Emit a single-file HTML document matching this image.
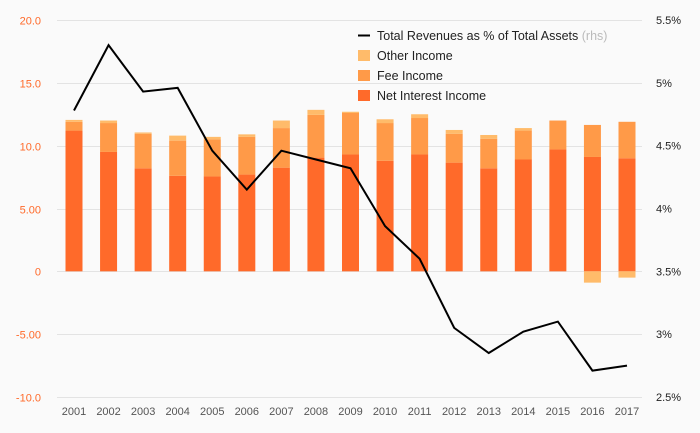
<!DOCTYPE html>
<html><head><meta charset="utf-8"><style>
html,body{margin:0;padding:0;background:#fafafa;}
svg{display:block;font-family:"Liberation Sans",sans-serif;}
</style></head><body>
<svg id="chart" width="700" height="433" viewBox="0 0 700 433" xmlns="http://www.w3.org/2000/svg">
<rect width="700" height="433" fill="#fafafa"/>
<g id="grid"></g>
<g id="bars"></g>
<g id="line"></g>
<g id="axes"></g>
<g font-size="12.5" fill="#222">
  <line x1="358" y1="35.5" x2="370" y2="35.5" stroke="#000" stroke-width="2"/>
  <text x="377" y="40">Total Revenues as % of Total Assets <tspan fill="#bbb">(rhs)</tspan></text>
  <rect x="358" y="50" width="12" height="11" fill="#ffbb6a"/>
  <text x="377" y="60">Other Income</text>
  <rect x="358" y="70" width="12" height="11" fill="#ff9a48"/>
  <text x="377" y="80">Fee Income</text>
  <rect x="358" y="90" width="12" height="11" fill="#ff6a2a"/>
  <text x="377" y="100">Net Interest Income</text>
</g>
</svg>
<script>
const years = ["2001","2002","2003","2004","2005","2006","2007","2008","2009","2010","2011","2012","2013","2014","2015","2016","2017"];
const netInterest = [11.2,9.5,8.2,7.6,7.55,7.7,8.25,9.05,9.3,8.8,9.3,8.65,8.2,8.9,9.7,9.1,9.0];
const feeIncome = [0.7,2.3,2.75,2.8,2.95,3.0,3.15,3.4,3.3,3.0,2.9,2.3,2.35,2.3,2.3,2.55,2.9];
const otherIncome = [0.15,0.2,0.1,0.4,0.2,0.2,0.6,0.4,0.1,0.3,0.3,0.3,0.3,0.2,0.0,-0.9,-0.5];
const revenuePct = [4.78,5.30,4.93,4.96,4.46,4.15,4.46,4.39,4.32,3.86,3.60,3.05,2.85,3.02,3.10,2.71,2.75];
const leftTicks = [-10,-5,0,5,10,15,20];
const leftTickLabels = ["-10.0","-5.00","0","5.00","10.0","15.0","20.0"];
const rightTicks = [2.5,3,3.5,4,4.5,5,5.5];
const rightTickLabels = ["2.5%","3%","3.5%","4%","4.5%","5%","5.5%"];

const NS="http://www.w3.org/2000/svg";
const plotL=57, plotR=642, plotTop=20, plotBot=397;
const yL = v => plotBot - (v - (-10)) / 30 * (plotBot - plotTop);
const yR = v => plotBot - (v - 2.5) / 3 * (plotBot - plotTop);
const step = (627 - 74) / (years.length - 1);
const xC = i => 74 + i * step;
const bw = 17;
function mk(tag, attrs, parent){const e=document.createElementNS(NS,tag);for(const k in attrs)e.setAttribute(k,attrs[k]);parent.appendChild(e);return e;}
const grid=document.getElementById('grid'), bars=document.getElementById('bars'), axes=document.getElementById('axes'), lineG=document.getElementById('line');

leftTicks.forEach((t,i)=>{
  const y=Math.round(yL(t))+0.5;
  const g=mk('line',{x1:plotL,x2:plotR,y1:y,y2:y,stroke:'#e3e3e3','stroke-width':1},grid);
  
  
  const tx=mk('text',{x:41,y:y+4,'text-anchor':'end','font-size':11,fill:'#ff6a2a'},axes);
  tx.textContent=leftTickLabels[i];
  
  
});
rightTicks.forEach((t,i)=>{
  const tx=mk('text',{x:656,y:yR(t)+4,'font-size':11,fill:'#222'},axes);
  tx.textContent=rightTickLabels[i];
  
  
});
years.forEach((yr,i)=>{
  const x=xC(i)-bw/2;
  const segs=[[0,netInterest[i],'#ff6a2a','bar-net-interest'],[netInterest[i],netInterest[i]+feeIncome[i],'#ff9a48','bar-fee-income']];
  if(otherIncome[i]>=0) segs.push([netInterest[i]+feeIncome[i],netInterest[i]+feeIncome[i]+otherIncome[i],'#ffbb6a','bar-other-income']);
  else segs.push([otherIncome[i],0,'#ffbb6a','bar-other-income']);
  segs.forEach(s=>{
    const y1=yL(s[1]), y0=yL(s[0]);
    const r=mk('rect',{x:x,y:Math.min(y0,y1),width:bw,height:Math.abs(y0-y1),fill:s[2]},bars);
    
    
  });
  const tx=mk('text',{x:xC(i),y:415,'text-anchor':'middle','font-size':11,fill:'#555'},axes);
  tx.textContent=yr;
  
  
});
const pl=mk('polyline',{points:revenuePct.map((v,i)=>xC(i)+','+yR(v)).join(' '),fill:'none',stroke:'#000','stroke-width':2,'stroke-linejoin':'miter'},lineG);


</script>
</body></html>
